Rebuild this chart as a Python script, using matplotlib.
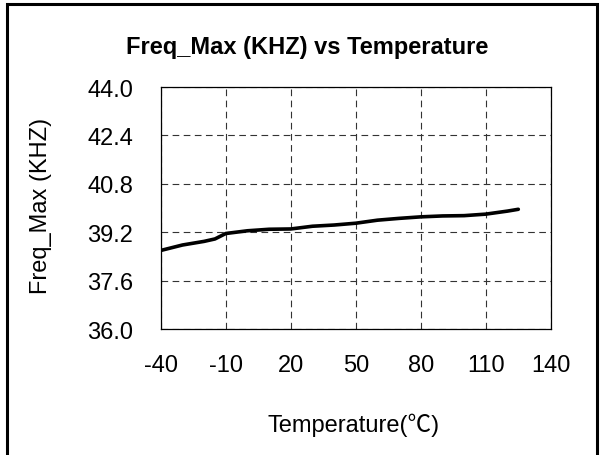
import matplotlib
matplotlib.use('Agg')
import matplotlib.pyplot as plt
from matplotlib.patches import Rectangle

plt.rcParams['font.family'] = ['Liberation Sans', 'Noto Sans CJK SC', 'DejaVu Sans']
plt.rcParams['axes.unicode_minus'] = False

temps = [-40, -30, -20, -15, -10, 0, 10, 20, 30, 40, 50, 60, 70, 80, 90, 100, 110, 120, 125]
freq_max = [38.6, 38.78, 38.9, 38.98, 39.16, 39.25, 39.3, 39.31, 39.4, 39.44, 39.5, 39.6, 39.66, 39.71, 39.74, 39.75, 39.8, 39.9, 39.96]

x_ticks = [-40, -10, 20, 50, 80, 110, 140]
y_ticks = [36.0, 37.6, 39.2, 40.8, 42.4, 44.0]

fig = plt.figure(figsize=(6, 4.56), dpi=100)
ax = fig.add_axes([0.268, 0.276, 0.65, 0.531])

ax.plot(temps, freq_max, color='black', linewidth=2.6, solid_capstyle='round')

ax.set_xlim(-40, 140)
ax.set_ylim(36, 44)
ax.set_xticks(x_ticks)
ax.set_yticks(y_ticks)
ax.set_yticklabels(['%.1f' % v for v in y_ticks])
ax.tick_params(length=0, labelsize=17)
ax.tick_params(axis='y', pad=20)
ax.tick_params(axis='x', pad=18)
ax.grid(True, color='#333333', linestyle=(0, (6, 4)), linewidth=0.8)
for s in ax.spines.values():
    s.set_linewidth(0.9)

fig.text(0.512, 0.895, 'Freq_Max (KHZ) vs Temperature', ha='center', va='center',
         fontsize=17, fontweight='bold')
fig.text(0.068, 0.548, 'Freq_Max (KHZ)', ha='center', va='center', rotation=90, fontsize=17)
fig.text(0.59, 0.068, 'Temperature(℃)', ha='center', va='center', fontsize=17)

fig.patches.append(Rectangle((7 / 600, -0.1), 590 / 600, 1.1 - 5 / 456,
                             transform=fig.transFigure, fill=False,
                             edgecolor='black', linewidth=2.2))

fig.savefig('out.png', dpi=100)
